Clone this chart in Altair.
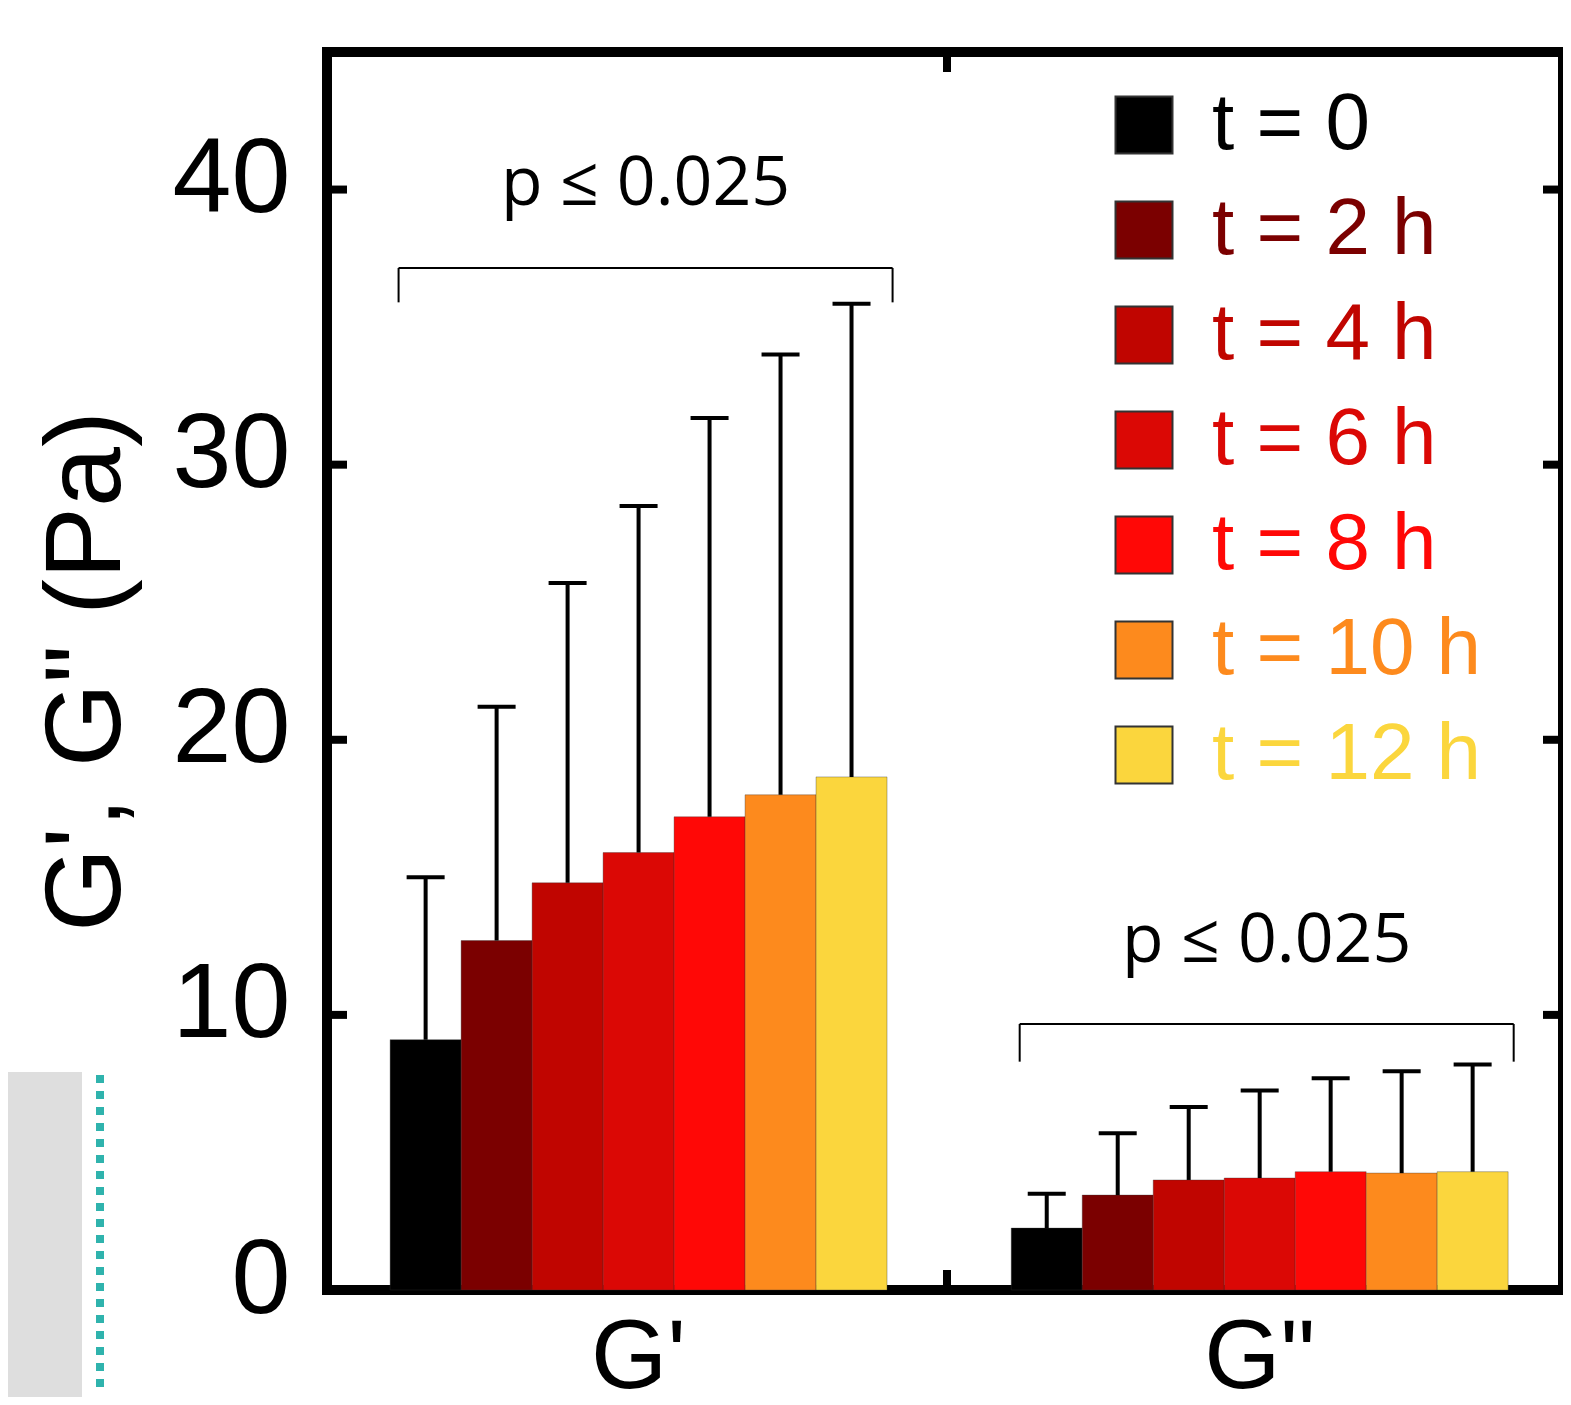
import altair as alt
import pandas as pd

# ---- data ----
groups = ["G'", 'G"']
times = ["t = 0", "t = 2 h", "t = 4 h", "t = 6 h", "t = 8 h", "t = 10 h", "t = 12 h"]
colors = ["#000000", "#7b0000", "#c00500", "#db0805", "#ff0806", "#fd8a1d", "#fbd63d"]

gp_mean = [9.1, 12.7, 14.8, 15.9, 17.2, 18.0, 18.65]
gp_upper = [15.0, 21.2, 25.7, 28.5, 31.7, 34.0, 35.85]
gpp_mean = [2.25, 3.45, 4.0, 4.07, 4.3, 4.25, 4.3]
gpp_upper = [3.5, 5.7, 6.65, 7.25, 7.7, 7.95, 8.2]

p_labels = ["p \u2264 0.025", "p \u2264 0.025"]
p_text_y = [39.45, 11.93]
bracket_top = [37.15, 9.67]
bracket_bottom = [35.9, 8.3]

tick_values = [0, 10, 20, 30, 40]

# ---- tables ----
rows = []
for g, means, ups in [(groups[0], gp_mean, gp_upper), (groups[1], gpp_mean, gpp_upper)]:
    for t, m, u in zip(times, means, ups):
        rows.append({"group": g, "time": t, "value": m, "upper": u})
bars_df = pd.DataFrame(rows)

ann_df = pd.DataFrame({"group": groups, "label": p_labels, "value": p_text_y,
                       "top": bracket_top, "bottom": bracket_bottom})
ticks_df = pd.DataFrame({"value": tick_values})
dummy = pd.DataFrame({"a": [0]})

W, H = 1236, 1238
FONT = "Liberation Sans"

xscale = alt.Scale(domain=groups, paddingInner=0.2, paddingOuter=0.095, align=0.535)
xaxis = alt.Axis(title=None, labelAngle=0, labelFontSize=98, labelFont=FONT, labelColor="black",
                 ticks=False, domain=False, labelPadding=20, grid=False)
yscale = alt.Scale(domain=[0, 45], nice=False, zero=True)
yaxis = alt.Axis(title="G', G\" (Pa)", titleFontSize=108, titleFont=FONT, titleFontWeight="normal",
                 titleColor="black", titlePadding=30, values=tick_values, labelFontSize=106,
                 labelFont=FONT, labelColor="black", ticks=False, domain=False, grid=False,
                 labelPadding=37, labelOffset=-10)

X = alt.X("group:N", sort=groups, scale=xscale, axis=xaxis)
XO = alt.XOffset("time:N", sort=times, scale=alt.Scale(domain=times, paddingInner=0, paddingOuter=0))


def Y(field):
    return alt.Y(f"{field}:Q", scale=yscale, axis=yaxis)


label_expr = " : ".join(
    [f"datum.label === '{t}' ? '{c}'" for t, c in zip(times, colors)]) + " : 'black'"

legend = alt.Legend(orient="none", legendX=777, legendY=33, title=None, symbolType="square",
                    symbolSize=3249, labelFontSize=80, labelFont=FONT, labelOffset=28,
                    rowPadding=25, symbolStrokeColor="#333333", symbolStrokeWidth=2,
                    labelColor={"expr": label_expr}, padding=0, labelLimit=600,
                    symbolOpacity=1)

bg_rect = alt.Chart(dummy).mark_rect(color="#dedede").encode(
    x=alt.value(-319), x2=alt.value(-245), y=alt.value(1020), y2=alt.value(1345))
teal = alt.Chart(dummy).mark_rule(color="#2fb3ad", strokeWidth=8, strokeDash=[8, 8]).encode(
    x=alt.value(-227), y=alt.value(1023), y2=alt.value(1343))

bars = alt.Chart(bars_df).mark_bar(stroke="#333333", strokeWidth=1, strokeOpacity=0.35).encode(
    x=X, xOffset=XO, y=Y("value"),
    color=alt.Color("time:N", sort=times, scale=alt.Scale(domain=times, range=colors), legend=legend))

err = alt.Chart(bars_df).mark_rule(color="black", strokeWidth=4).encode(
    x=X, xOffset=XO, y=Y("value"), y2="upper:Q")
caps = alt.Chart(bars_df).mark_tick(color="black", thickness=4, size=38, opacity=1).encode(
    x=X, xOffset=XO, y=Y("upper"))

br_h = alt.Chart(ann_df).mark_tick(color="black", thickness=2, size=494, xOffset=7, opacity=1).encode(
    x=X, y=Y("top"))
br_l = alt.Chart(ann_df).mark_rule(color="black", strokeWidth=2, xOffset=7 - 247).encode(
    x=X, y=Y("top"), y2="bottom:Q")
br_r = alt.Chart(ann_df).mark_rule(color="black", strokeWidth=2, xOffset=7 + 247).encode(
    x=X, y=Y("top"), y2="bottom:Q")
ptext = alt.Chart(ann_df).mark_text(font="Open Sans", fontSize=68, baseline="alphabetic",
                                    align="center", dx=7, color="black").encode(
    x=X, y=Y("value"), text="label:N")

lt = alt.Chart(ticks_df).mark_rule(color="black", strokeWidth=8).encode(
    x=alt.value(0), x2=alt.value(20), y=Y("value"))
rt = alt.Chart(ticks_df).mark_rule(color="black", strokeWidth=8).encode(
    x=alt.value(W - 20), x2=alt.value(W), y=Y("value"))
tt = alt.Chart(dummy).mark_rule(color="black", strokeWidth=8).encode(
    x=alt.value(W / 2 + 2), y=alt.value(0), y2=alt.value(20))
bt = alt.Chart(dummy).mark_rule(color="black", strokeWidth=8).encode(
    x=alt.value(W / 2 + 2), y=alt.value(H - 20), y2=alt.value(H))

chart = alt.layer(bg_rect, teal, bars, err, caps, br_h, br_l, br_r, ptext, lt, rt, tt, bt).properties(
    width=W, height=H,
    background="white",
    autosize=alt.AutoSizeParams(type="none"),
    padding={"left": 319, "top": 44, "right": 0, "bottom": 107},
).configure_view(stroke="black", strokeWidth=10)

chart.save("out.html", embed_options={"renderer": "svg", "actions": False})
